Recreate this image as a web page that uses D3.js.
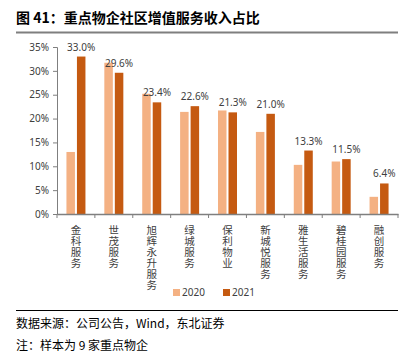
<!DOCTYPE html>
<html><head><meta charset="utf-8">
<script src="https://cdn.jsdelivr.net/npm/d3@7"></script>
<style>
body{margin:0;background:#fff;}
svg{display:block;font-family:"Noto Sans CJK SC","Noto Sans",sans-serif;}
</style></head>
<body><svg id="c" width="411" height="352"></svg>
<script>
const categories = ["金科服务","世茂服务","旭辉永升服务","绿城服务","保利物业","新城悦服务","雅生活服务","碧桂园服务","融创服务"];
const values2020 = [13.0, 31.7, 25.2, 21.4, 21.7, 17.2, 10.3, 11.0, 3.6];
const values2021 = [33.0, 29.6, 23.4, 22.6, 21.3, 21.0, 13.3, 11.5, 6.4];
const seriesNames = ["2020","2021"];
const yTicks = [0,5,10,15,20,25,30,35];

(function(){
const colors = {"2020":"#F4B183","2021":"#C55A11"};
const svg = d3.select("#c");

// title
svg.append("text").attr("x",16).attr("y",23).attr("font-size",14).attr("font-weight","bold")
  .attr("fill","#000").text("图 41：重点物企社区增值服务收入占比");
svg.append("line").attr("x1",16).attr("x2",398).attr("y1",32.5).attr("y2",32.5)
  .attr("stroke","#7f7f7f").attr("stroke-width",2);

const mLeft=57, mRight=398, mTop=47, mBottom=214;
const x = d3.scaleBand().domain(categories).range([mLeft,mRight]).padding(0);
const y = d3.scaleLinear().domain([0,35]).range([mBottom,mTop]);

// y axis
const ya = svg.append("g").attr("transform",`translate(${mLeft},0)`)
  .call(d3.axisLeft(y).tickValues(yTicks).tickFormat(d=>d+"%").tickSize(4).tickPadding(4));
ya.select(".domain").attr("stroke","#7f7f7f");
ya.selectAll(".tick line").attr("stroke","#7f7f7f");
ya.selectAll("text").attr("font-size",10).attr("fill","#404040").attr("font-family","Noto Sans, sans-serif");

// bars
const bw = 8.5, gap = 2;
const groups = svg.append("g");
categories.forEach((c,i)=>{
  const cx = x(c)+x.bandwidth()/2;
  [values2020[i], values2021[i]].forEach((v,j)=>{
    const bx = j===0 ? cx - gap/2 - bw : cx + gap/2;
    groups.append("rect").attr("x",bx).attr("width",bw)
      .attr("y",y(v)).attr("height",mBottom-y(v))
      .attr("fill",colors[seriesNames[j]]);
  });
  svg.append("text").attr("x",cx+gap/2+bw/2).attr("y",y(values2021[i])-6)
    .attr("text-anchor","middle").attr("font-size",10).attr("fill","#404040")
    .attr("font-family","Noto Sans, sans-serif")
    .text(values2021[i].toFixed(1)+"%");
});

// x axis
const xa = svg.append("g").attr("transform",`translate(0,${mBottom})`)
  .call(d3.axisBottom(x).tickSize(0).tickFormat(""));
xa.select(".domain").attr("stroke","#7f7f7f").attr("stroke-width",1.5);
const bounds = categories.map(c=>x(c)).concat([mRight]);
svg.append("g").selectAll("line").data(bounds).join("line")
  .attr("x1",d=>d).attr("x2",d=>d).attr("y1",mBottom).attr("y2",mBottom+4)
  .attr("stroke","#7f7f7f");
// vertical labels, one char per line
const lab = svg.append("g");
categories.forEach(c=>{
  const t = lab.append("text").attr("font-size",10.5).attr("fill","#404040")
    .attr("text-anchor","middle");
  Array.from(c).forEach((ch,k)=>{
    t.append("tspan").attr("x",x(c)+x.bandwidth()/2).attr("y",mBottom+20+k*11).text(ch);
  });
});

// legend
const lg = svg.append("g").attr("transform","translate(173,293)");
seriesNames.forEach((s,i)=>{
  const g = lg.append("g").attr("transform",`translate(${i*50},0)`);
  g.append("rect").attr("x",0).attr("y",-4).attr("width",7).attr("height",7).attr("fill",colors[s]);
  g.append("text").attr("x",9).attr("y",0).attr("dominant-baseline","middle")
    .attr("font-size",10).attr("fill","#404040").attr("font-family","Noto Sans, sans-serif").text(s);
});

// footer
svg.append("line").attr("x1",16).attr("x2",398).attr("y1",310.5).attr("y2",310.5)
  .attr("stroke","#000").attr("stroke-width",1);
svg.append("text").attr("x",16).attr("y",328).attr("font-size",12).attr("fill","#000")
  .text("数据来源：公司公告，Wind，东北证券");
svg.append("text").attr("x",16).attr("y",350).attr("font-size",12).attr("fill","#000")
  .text("注：样本为 9 家重点物企");
})();
</script></body></html>
